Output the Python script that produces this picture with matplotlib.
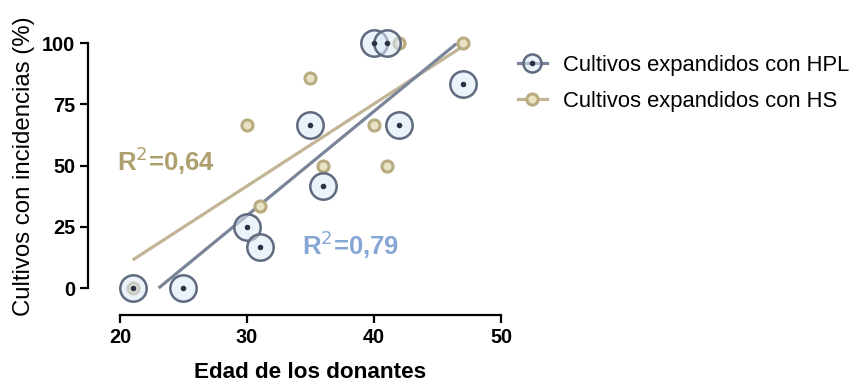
import numpy as np
import matplotlib.pyplot as plt
from matplotlib.lines import Line2D
from matplotlib.legend_handler import HandlerTuple

plt.rcParams['font.family'] = ['Liberation Sans', 'DejaVu Sans']

# edad del donante vs % de cultivos con incidencias
edad_hpl = [21, 25, 30, 31, 35, 36, 40, 41, 42, 47]
inc_hpl = [0, 0, 25, 16.7, 66.7, 41.7, 100, 100, 66.7, 83.3]

edad_hs = [21, 30, 31, 35, 36, 40, 41, 42, 47]
inc_hs = [0, 66.7, 33.3, 85.7, 50, 66.7, 50, 100, 100]

r2_hpl = "0,79"
r2_hs = "0,64"

c_hpl_edge = '#5f6a7e'
c_hpl_face = (0.86, 0.91, 0.97, 0.55)
c_hpl_line = '#7a859a'
c_hs_edge = '#b9ab80'
c_hs_face = '#e9e2c4'
c_hs_line = '#c2b595'
c_txt_hs = '#ada06c'
c_txt_hpl = '#86a6d6'

fig = plt.figure(figsize=(8.51, 3.83), dpi=100)
ax = fig.add_axes([0.1034, 0.1775, 0.4853, 0.7102])


def recta(x, y):
    m, b = np.polyfit(x, y, 1)
    x0 = max(min(x), (0 - b) / m)
    x1 = min(max(x), (100 - b) / m)
    xs = np.array([x0, x1])
    return xs, m * xs + b


xs, ys = recta(edad_hs, inc_hs)
ax.plot(xs, ys, color=c_hs_line, lw=2.3, zorder=2, solid_capstyle='butt')
xs, ys = recta(edad_hpl, inc_hpl)
ax.plot(xs, ys, color=c_hpl_line, lw=2.3, zorder=2, solid_capstyle='butt')

ax.plot(edad_hs, inc_hs, 'o', ms=8, mfc=c_hs_face, mec=c_hs_edge, mew=2.2,
        ls='none', zorder=3, clip_on=False)
ax.plot(edad_hpl, inc_hpl, 'o', ms=19, mfc=c_hpl_face, mec=c_hpl_edge, mew=1.8,
        ls='none', zorder=4, clip_on=False)
ax.plot(edad_hpl, inc_hpl, 'o', ms=3, mfc='#2b3445', mec='#2b3445',
        ls='none', zorder=5, clip_on=False)

ax.text(19.8, 52, "R$^{2}$=" + r2_hs, color=c_txt_hs, fontsize=18.5,
        fontweight='bold', va='center', ha='left')
ax.text(34.3, 17.5, "R$^{2}$=" + r2_hpl, color=c_txt_hpl, fontsize=18.5,
        fontweight='bold', va='center', ha='left')

ax.set_xlim(17.48, 50)
ax.set_ylim(-11, 100)
ax.set_xticks([20, 30, 40, 50])
ax.set_yticks([0, 25, 50, 75, 100])
for s in ['top', 'right']:
    ax.spines[s].set_visible(False)
ax.spines['left'].set_bounds(0, 100)
ax.spines['bottom'].set_bounds(20, 50)
for s in ['left', 'bottom']:
    ax.spines[s].set_linewidth(1.6)
ax.tick_params(width=1.6, length=6, labelsize=14.3, pad=3)
for lab in ax.get_xticklabels() + ax.get_yticklabels():
    lab.set_fontweight('bold')

fig.text(0.3643, 0.013, "Edad de los donantes", fontsize=16.2,
         fontweight='bold', ha='center', va='baseline')
fig.text(0.0282, 0.566, "Cultivos con incidencias (%)", fontsize=17.3,
         rotation=90, ha='center', va='center')

h_hpl = (Line2D([], [], color=c_hpl_line, lw=2.3),
         Line2D([], [], marker='o', ms=13, mfc=c_hpl_face, mec=c_hpl_edge, mew=1.8, ls='none'),
         Line2D([], [], marker='o', ms=3, mfc='#2b3445', mec='#2b3445', ls='none'))
h_hs = (Line2D([], [], color=c_hs_line, lw=2.3),
        Line2D([], [], marker='o', ms=8, mfc=c_hs_face, mec=c_hs_edge, mew=2.2, ls='none'))
fig.legend([h_hpl, h_hs],
           ["Cultivos expandidos con HPL", "Cultivos expandidos con HS"],
           handler_map={tuple: HandlerTuple(ndivide=1, pad=0)},
           loc='upper left', bbox_to_anchor=(0.6087, 0.857), frameon=False,
           borderpad=0, borderaxespad=0,
           fontsize=15.8, handlelength=1.32, handletextpad=0.73, labelspacing=0.68)

fig.savefig("out.png", dpi=100)
